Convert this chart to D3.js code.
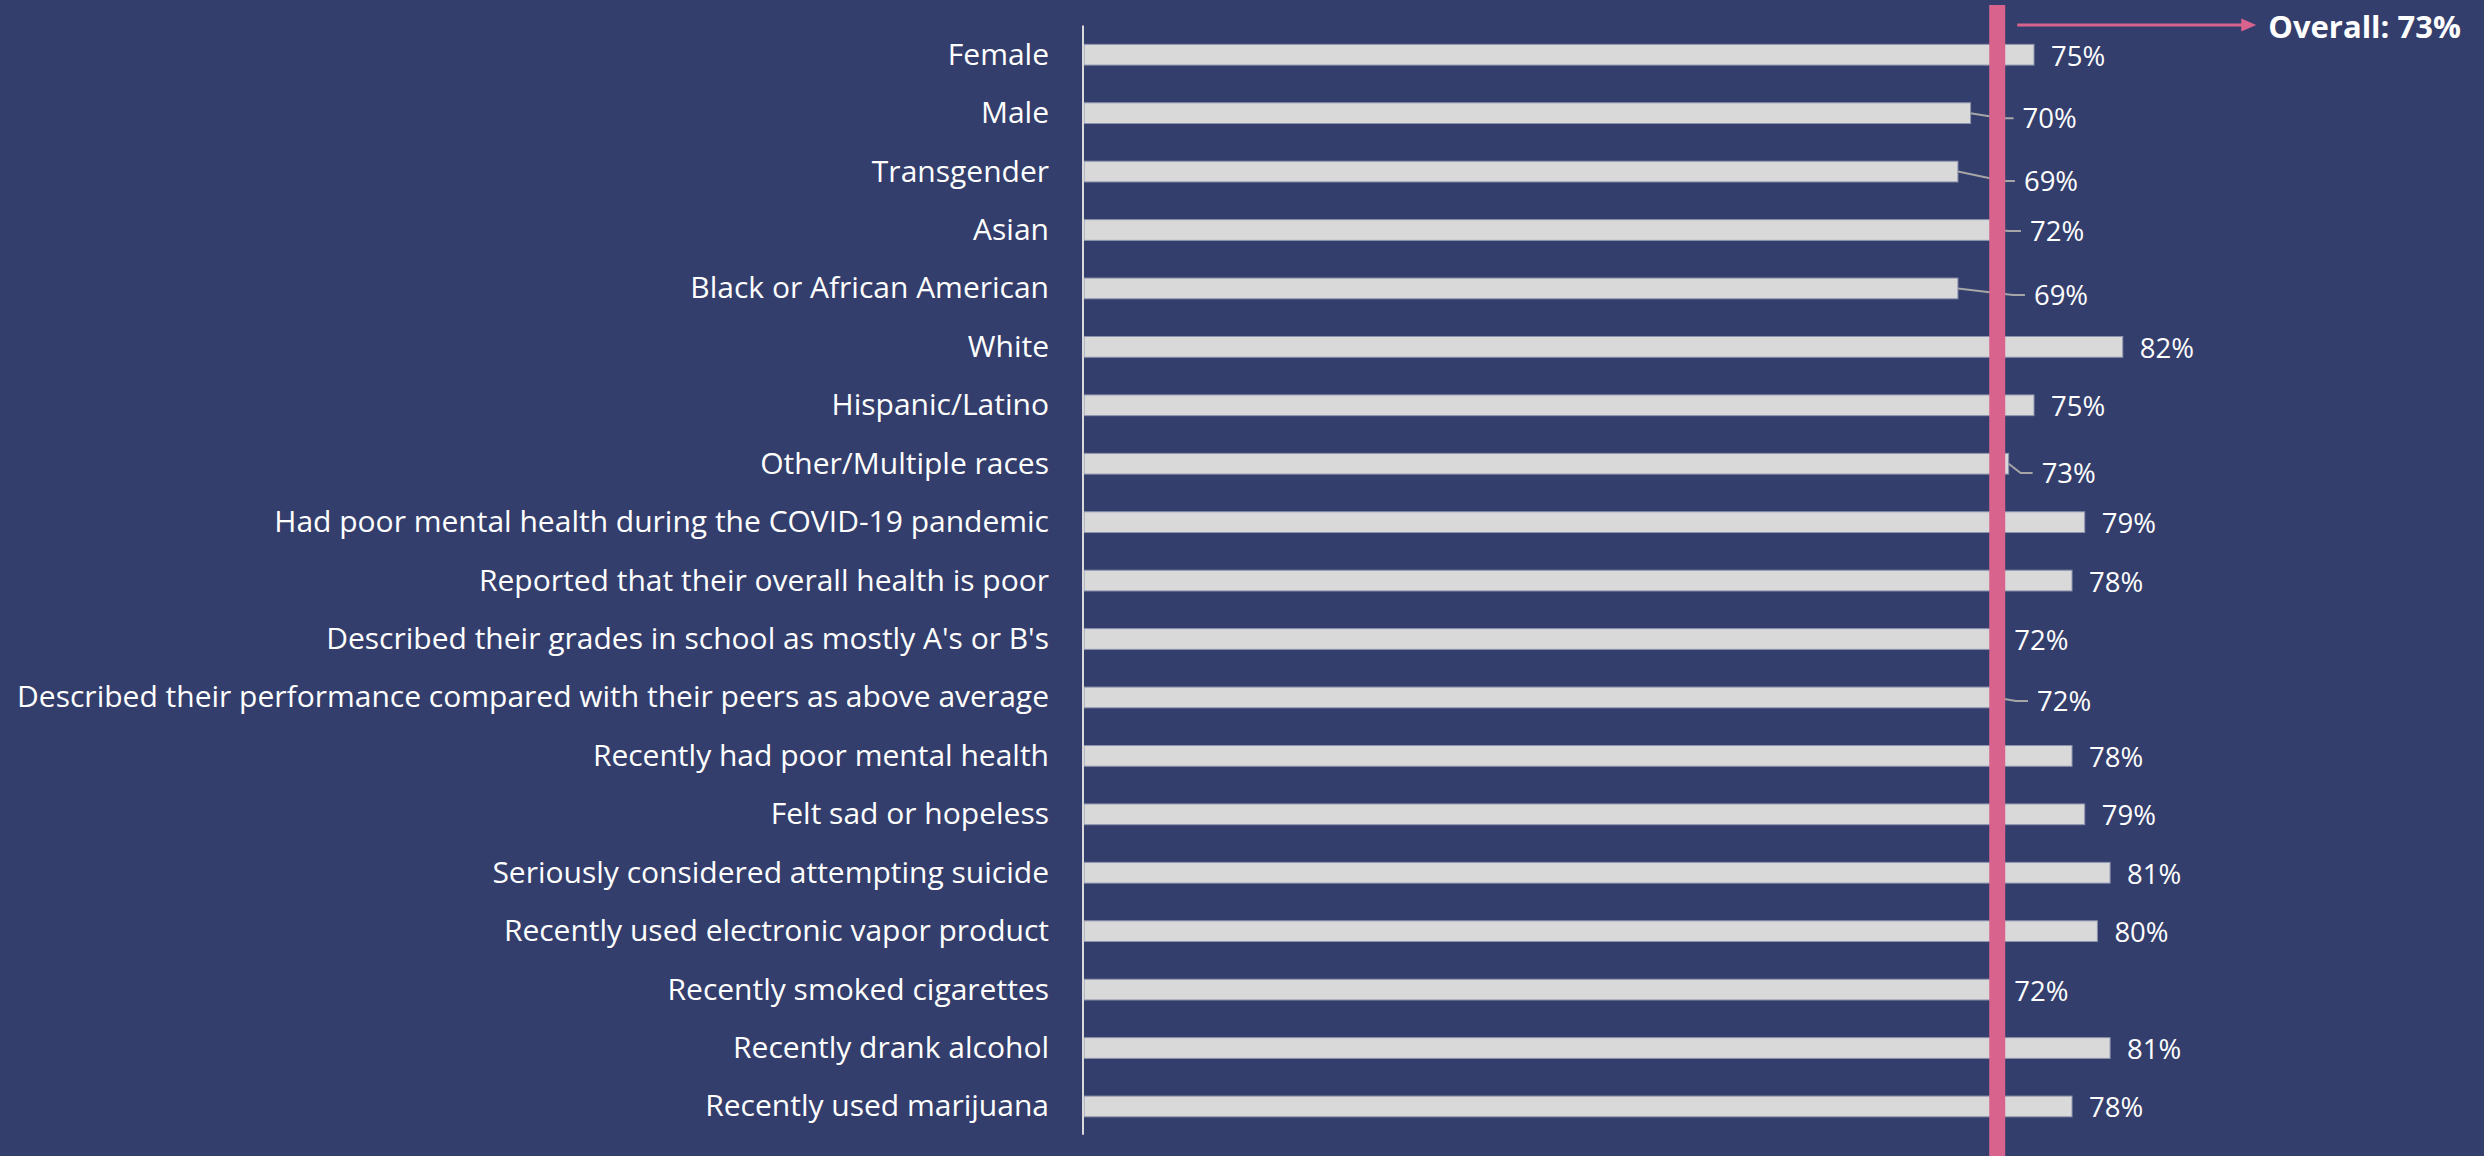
<!DOCTYPE html>
<html>
<head>
<meta charset="utf-8">
<script src="https://cdn.jsdelivr.net/npm/d3@7"></script>
<style>
    body {margin: 0; background: #343E6C;}
    svg {display: block;}
    .cat {font-family: "Open Sans", sans-serif; font-size: 30px; fill: #FFFFFF;}
    .val {font-family: "Open Sans", sans-serif; font-size: 27.5px; fill: #FFFFFF;}
    .overall {font-family: "Open Sans", sans-serif; font-size: 31px; font-weight: bold; fill: #FFFFFF;}
</style>
</head>
<body>
<div id="chart"></div>
<script>
// data
let categories = [
    "Female",
    "Male",
    "Transgender",
    "Asian",
    "Black or African American",
    "White",
    "Hispanic/Latino",
    "Other/Multiple races",
    "Had poor mental health during the COVID-19 pandemic",
    "Reported that their overall health is poor",
    "Described their grades in school as mostly A's or B's",
    "Described their performance compared with their peers as above average",
    "Recently had poor mental health",
    "Felt sad or hopeless",
    "Seriously considered attempting suicide",
    "Recently used electronic vapor product",
    "Recently smoked cigarettes",
    "Recently drank alcohol",
    "Recently used marijuana"
];
let values = [75, 70, 69, 72, 69, 82, 75, 73, 79, 78, 72, 72, 78, 79, 81, 80, 72, 81, 78];
let overallValue = 73;
let overallMarker = 72.1; // where the pink line sits in the picture

// labels that were dragged off the bar end (dx from bar end, dy from bar centre)
let leaderLabels = {
    "Male": [52, 5],
    "Transgender": [66, 9.5],
    "Asian": [34, 1],
    "Black or African American": [76, 6.5],
    "Other/Multiple races": [33, 9.3],
    "Described their performance compared with their peers as above average": [41, 3.6]
};

let width = 2484, height = 1156;
let axisX = 1083, pxPerPct = 12.68;
let plotTop = 25.5, rowStep = 58.43;

let svg = d3.select("#chart").append("svg")
    .attr("width", width)
    .attr("height", height);

svg.append("rect").attr("width", width).attr("height", height).attr("fill", "#343E6C");

let x = d3.scaleLinear()
    .domain([0, 100])
    .range([axisX, axisX + 100 * pxPerPct]);

let y = d3.scaleBand()
    .domain(categories)
    .range([plotTop, plotTop + rowStep * categories.length])
    .paddingInner(0.645)
    .paddingOuter(0.3225);

let rows = categories.map((c, i) => ({cat: c, value: values[i]}));

////////// bars //////////
svg.append("g")
    .selectAll("rect")
    .data(rows)
    .enter()
    .append("rect")
    .attr("x", x(0) + 1)
    .attr("y", d => y(d.cat))
    .attr("width", d => x(d.value) - x(0) - 1)
    .attr("height", y.bandwidth())
    .attr("fill", "#D9D9D9")
    .attr("stroke", "#8D93AD")
    .attr("stroke-width", 1);

// category axis (line only, labels drawn by hand so they sit like excel)
svg.append("line")
    .attr("x1", axisX).attr("x2", axisX)
    .attr("y1", y.range()[0]).attr("y2", y.range()[1] - 1)
    .attr("stroke", "#D9D9D9")
    .attr("stroke-width", 2);

svg.append("g")
    .selectAll("text")
    .data(rows)
    .enter()
    .append("text")
    .attr("class", "cat")
    .attr("text-anchor", "end")
    .attr("x", axisX - 34)
    .attr("y", d => y(d.cat) + y.bandwidth() / 2 + 10)
    .text(d => d.cat);

////////// overall marker //////////
let mx = x(overallMarker);

////////// value labels //////////
function labelPos(d) {
    let cy = y(d.cat) + y.bandwidth() / 2;
    let nudge = leaderLabels[d.cat];
    if (nudge) return {x: x(d.value) + nudge[0], cy: cy + nudge[1]};
    // plain labels just sit past the bar end (or past the pink line if hidden by it)
    return {x: Math.max(x(d.value), mx) + 17, cy: cy + 1};
}

let leaders = svg.append("g");
rows.filter(d => leaderLabels[d.cat]).forEach(d => {
    let p = labelPos(d);
    let cy = y(d.cat) + y.bandwidth() / 2;
    leaders.append("polyline")
        .attr("points", [[x(d.value), cy], [p.x - 21, p.cy], [p.x - 9, p.cy]].join(" "))
        .attr("fill", "none")
        .attr("stroke", "#A6A6A6")
        .attr("stroke-width", 2);
});

// marker goes over the bars and leader lines, like in the picture
svg.append("line")
    .attr("x1", mx).attr("x2", mx)
    .attr("y1", 5).attr("y2", height)
    .attr("stroke", "#D8648E")
    .attr("stroke-width", 16);

svg.append("g")
    .selectAll("text")
    .data(rows)
    .enter()
    .append("text")
    .attr("class", "val")
    .attr("x", d => labelPos(d).x)
    .attr("y", d => labelPos(d).cy + 10)
    .text(d => d.value + "%");

////////// arrow + overall text //////////
let arrowY = 25;
svg.append("line")
    .attr("x1", mx + 20).attr("x2", mx + 246)
    .attr("y1", arrowY).attr("y2", arrowY)
    .attr("stroke", "#D8648E")
    .attr("stroke-width", 3);
svg.append("path")
    .attr("d", `M${mx + 244},${arrowY - 6.5}L${mx + 259},${arrowY}L${mx + 244},${arrowY + 6.5}Z`)
    .attr("fill", "#D8648E");

svg.append("text")
    .attr("class", "overall")
    .attr("x", mx + 271)
    .attr("y", 38)
    .text("Overall: " + overallValue + "%");
</script>
</body>
</html>
